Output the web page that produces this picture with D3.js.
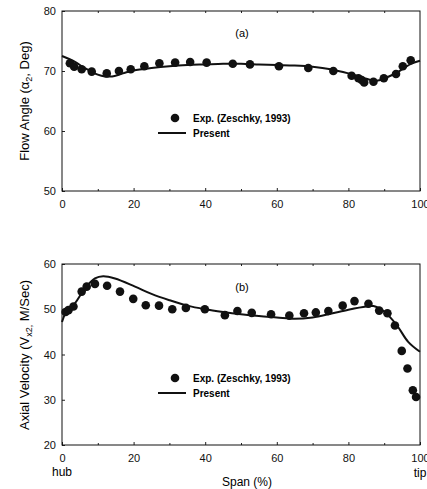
<!DOCTYPE html>
<html>
<head>
<meta charset="utf-8">
<script src="https://cdn.jsdelivr.net/npm/d3@7"></script>
<style>
  html, body { margin: 0; padding: 0; background: #fff; }
  svg { display: block; font-family: "Liberation Sans", Arial, sans-serif; }
</style>
</head>
<body>
<svg id="chart" width="427" height="489"></svg>
<script>
// Panel (a): flow angle vs span
const angleExpSpan = [2.2, 3.4, 5.5, 8.3, 12.5, 15.9, 19.2, 23, 27.2, 31.6, 35.8, 40.4, 47.7, 52.5, 60.6, 68.8, 75.8, 80.9, 82.8, 83.7, 84.4, 87, 89.9, 93.3, 95.2, 97.4];
const angleExp     = [71.3, 70.7, 70.3, 69.9, 69.6, 70.0, 70.3, 70.8, 71.3, 71.4, 71.5, 71.4, 71.2, 71.1, 70.8, 70.5, 70.0, 69.2, 68.8, 68.5, 68.1, 68.2, 68.8, 69.5, 70.8, 71.8];
const angleCalcSpan = [0, 2, 4, 6, 8, 10, 12, 14, 16, 18, 20, 25, 30, 35, 40, 45, 50, 55, 60, 65, 70, 75, 80, 84, 87, 89, 91, 94, 96, 98, 100];
const angleCalc     = [72.5, 72.0, 71.4, 70.6, 70.0, 69.4, 69.1, 69.1, 69.4, 69.8, 70.1, 70.5, 70.8, 71.0, 71.1, 71.2, 71.2, 71.1, 71.0, 70.9, 70.7, 70.3, 69.6, 68.9, 68.4, 68.5, 69.0, 69.9, 70.7, 71.3, 71.7];

// Panel (b): axial velocity vs span
const velExpSpan = [1.0, 1.8, 3.2, 5.5, 6.9, 9.2, 12.6, 16.2, 19.9, 23.4, 27.1, 30.8, 34.6, 39.9, 45.5, 49, 53, 58.4, 63.5, 67.6, 70.9, 74.4, 78.4, 81.7, 85.6, 88.6, 90.9, 93, 94.9, 96.5, 98, 98.9];
const velExp     = [49.4, 49.8, 50.6, 53.9, 55.0, 55.6, 55.2, 53.9, 52.3, 50.9, 50.8, 50.0, 50.3, 50.0, 48.7, 49.6, 49.2, 48.9, 48.6, 49.1, 49.3, 49.6, 50.8, 51.8, 51.2, 49.7, 49.1, 46.4, 40.8, 36.9, 32.1, 30.6];
const velCalcSpan = [0, 1, 3.6, 6.4, 9.2, 11.5, 14.8, 20.4, 25, 30, 35, 40, 45, 50, 55, 60, 65, 70, 75, 80, 85, 87, 90, 93.5, 96.7, 100];
const velCalc     = [47.2, 49.1, 51.3, 54.6, 56.8, 57.3, 56.8, 55.0, 53.4, 52.0, 50.8, 50.0, 49.4, 48.9, 48.5, 48.2, 47.9, 48.2, 49.0, 49.9, 50.6, 50.7, 49.5, 46.5, 42.8, 40.6];

const spanTicks = [0, 20, 40, 60, 80, 100];
const angleTicks = [50, 60, 70, 80];
const velTicks = [20, 30, 40, 50, 60];

const svg = d3.select("#chart");
const x = d3.scaleLinear().domain([0, 100]).range([62, 420]);

function panel(cfg) {
  const y = d3.scaleLinear().domain(cfg.domain).range(cfg.range);
  const g = svg.append("g");
  const [y0, y1] = cfg.range;

  // axes with inward ticks
  g.append("g").attr("transform", `translate(0,${y0})`)
    .call(d3.axisBottom(x).tickValues(spanTicks).tickSize(-3).tickPadding(9).tickFormat(d3.format("d")))
    .call(a => a.select(".domain").remove());
  g.append("g").attr("transform", `translate(62,0)`)
    .call(d3.axisLeft(y).tickValues(cfg.ticks).tickSize(-3).tickPadding(6))
    .call(a => a.select(".domain").remove());
  // minor x ticks
  g.append("g").attr("transform", `translate(0,${y0})`)
    .call(d3.axisBottom(x).tickValues(d3.range(10, 100, 20)).tickSize(-2).tickFormat(""))
    .call(a => a.select(".domain").remove());
  g.append("g").attr("transform", `translate(0,${y1})`)
    .call(d3.axisTop(x).tickValues(d3.range(10, 100, 10)).tickSize(-2).tickFormat(""))
    .call(a => a.select(".domain").remove());

  g.selectAll(".tick text").attr("font-size", 11).attr("fill", "#111");
  g.selectAll(".tick line").attr("stroke", "#222");

  // frame
  g.append("rect").attr("x", x(0)).attr("y", y1)
    .attr("width", x(100) - x(0)).attr("height", y0 - y1)
    .attr("fill", "none").attr("stroke", "#111").attr("stroke-width", 1);

  // computed line
  const line = d3.line().x(d => x(d[0])).y(d => y(d[1])).curve(d3.curveCatmullRom);
  g.append("path").datum(d3.zip(cfg.calcX, cfg.calcY))
    .attr("d", line).attr("fill", "none").attr("stroke", "#111").attr("stroke-width", 2);

  // experimental points
  g.selectAll("circle.exp").data(d3.zip(cfg.expX, cfg.expY)).join("circle")
    .attr("class", "exp").attr("cx", d => x(d[0])).attr("cy", d => y(d[1]))
    .attr("r", 4.3).attr("fill", "#111");

  // panel tag
  g.append("text").attr("x", 242).attr("y", cfg.tagY).attr("text-anchor", "middle")
    .attr("font-size", 11).text(cfg.tag);

  // legend
  const lg = g.append("g");
  lg.append("circle").attr("cx", 175).attr("cy", cfg.legY).attr("r", 4.3).attr("fill", "#111");
  lg.append("text").attr("x", 193).attr("y", cfg.legY + 4).attr("font-size", 10).attr("font-weight", "bold")
    .text("Exp. (Zeschky, 1993)");
  lg.append("line").attr("x1", 158).attr("x2", 186).attr("y1", cfg.legY + 15).attr("y2", cfg.legY + 15)
    .attr("stroke", "#111").attr("stroke-width", 2);
  lg.append("text").attr("x", 193).attr("y", cfg.legY + 19).attr("font-size", 10).attr("font-weight", "bold")
    .text("Present");

  return g;
}

panel({ domain: [50, 80], range: [191, 11], ticks: angleTicks,
        calcX: angleCalcSpan, calcY: angleCalc, expX: angleExpSpan, expY: angleExp,
        tag: "(a)", tagY: 37, legY: 118 });
panel({ domain: [20, 60], range: [445, 264], ticks: velTicks,
        calcX: velCalcSpan, calcY: velCalc, expX: velExpSpan, expY: velExp,
        tag: "(b)", tagY: 291, legY: 378 });

// axis titles
const t1 = svg.append("text").attr("transform", "translate(29,101) rotate(-90)")
  .attr("text-anchor", "middle").attr("font-size", 13);
t1.append("tspan").text("Flow Angle  (\u03b1");
t1.append("tspan").attr("font-size", 9).attr("dy", 3).text("2");
t1.append("tspan").attr("dy", -3).text(", Deg)");

const t2 = svg.append("text").attr("transform", "translate(29,355) rotate(-90)")
  .attr("text-anchor", "middle").attr("font-size", 13);
t2.append("tspan").text("Axial Velocity (V");
t2.append("tspan").attr("font-size", 9).attr("dy", 3).text("x2,");
t2.append("tspan").attr("dy", -3).text(" M/Sec)");

svg.append("text").attr("x", 247).attr("y", 486).attr("text-anchor", "middle").attr("font-size", 12).text("Span (%)");
svg.append("text").attr("x", 62).attr("y", 476).attr("text-anchor", "middle").attr("font-size", 12).text("hub");
svg.append("text").attr("x", 420).attr("y", 477).attr("text-anchor", "middle").attr("font-size", 12).text("tip");
</script>
</body>
</html>
